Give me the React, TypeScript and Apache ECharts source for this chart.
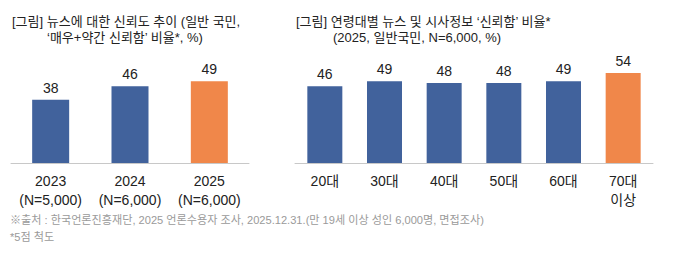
import React, { useEffect, useRef } from "react";
import * as echarts from "echarts";

const trendYears = ["2023\n(N=5,000)", "2024\n(N=6,000)", "2025\n(N=6,000)"];
const trendValues = [38, 46, 49];

const ageGroups = ["20대", "30대", "40대", "50대", "60대", "70대\n이상"];
const ageValues = [46, 49, 48, 48, 49, 54];

const BLUE = "#41629c";
const ORANGE = "#f0874a";
const FONT = "'Liberation Sans', Arial, 'Noto Sans CJK KR', sans-serif";

export default function App() {
  const ref = useRef<HTMLDivElement>(null);

  useEffect(() => {
    if (!ref.current) return;
    const chart = echarts.init(ref.current, undefined, { renderer: "svg" });

    // last bar in each panel is highlighted in orange
    const mkData = (vals: number[]) =>
      vals.map((v, i) => ({
        value: v,
        itemStyle: { color: i === vals.length - 1 ? ORANGE : BLUE },
      }));

    const axisLabel = {
      color: "#222",
      fontSize: 14,
      fontFamily: FONT,
      lineHeight: 19,
      margin: 8,
      interval: 0,
    };
    const valueLabel = {
      show: true,
      position: "top",
      distance: 5,
      color: "#222",
      fontSize: 14,
      fontFamily: FONT,
    };
    const titleStyle = { fill: "#222", font: `13px ${FONT}` };

    chart.setOption({
      animation: false,
      textStyle: { fontFamily: FONT },
      grid: [
        { left: 11, top: 63, width: 238, height: 100 },
        { left: 295, top: 63, width: 358, height: 100 },
      ],
      xAxis: [
        {
          type: "category",
          gridIndex: 0,
          data: trendYears,
          axisLine: { lineStyle: { color: "#c8c8c8", width: 1 } },
          axisTick: { show: false },
          axisLabel,
        },
        {
          type: "category",
          gridIndex: 1,
          data: ageGroups,
          axisLine: { lineStyle: { color: "#c8c8c8", width: 1 } },
          axisTick: { show: false },
          axisLabel,
        },
      ],
      yAxis: [
        { type: "value", gridIndex: 0, min: 0, max: 60, show: false },
        { type: "value", gridIndex: 1, min: 0, max: 60, show: false },
      ],
      series: [
        {
          type: "bar",
          xAxisIndex: 0,
          yAxisIndex: 0,
          data: mkData(trendValues),
          barWidth: 37,
          label: valueLabel,
        },
        {
          type: "bar",
          xAxisIndex: 1,
          yAxisIndex: 1,
          data: mkData(ageValues),
          barWidth: 35,
          label: valueLabel,
        },
      ],
      graphic: [
        {
          type: "text",
          left: 12,
          top: 15,
          style: { ...titleStyle, text: "[그림] 뉴스에 대한 신뢰도 추이 (일반 국민," },
        },
        {
          type: "text",
          left: 47,
          top: 31,
          style: { ...titleStyle, text: "‘매우+약간 신뢰함’ 비율*, %)" },
        },
        {
          type: "text",
          left: 296,
          top: 15,
          style: { ...titleStyle, text: "[그림] 연령대별 뉴스 및 시사정보 ‘신뢰함’ 비율*" },
        },
        {
          type: "text",
          left: 333,
          top: 31,
          style: { ...titleStyle, text: "(2025, 일반국민, N=6,000, %)" },
        },
        {
          type: "text",
          left: 10,
          top: 211,
          style: {
            text: "※출처 : 한국언론진흥재단, 2025 언론수용자 조사, 2025.12.31.(만 19세 이상 성인 6,000명, 면접조사)\n*5점 척도",
            fill: "#9a9a9a",
            font: `11.1px ${FONT}`,
            lineHeight: 17,
          },
        },
      ],
    });

    return () => chart.dispose();
  }, []);

  return <div ref={ref} style={{ width: 674, height: 255, position: "absolute", left: 0, top: 0 }} />;
}
